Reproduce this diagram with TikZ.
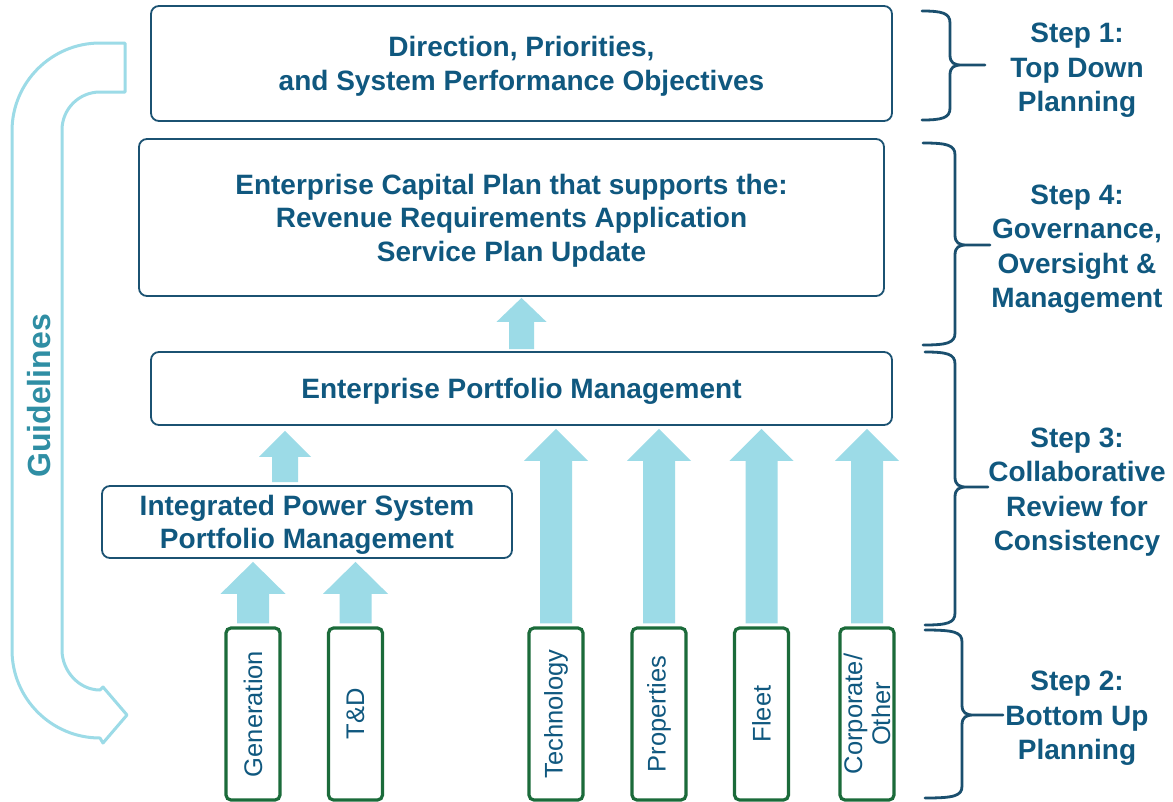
\documentclass[tikz,border=0pt]{standalone}
\usepackage{fontspec}
\setmainfont{Liberation Sans}
\usetikzlibrary{calc}

\definecolor{textblue}{HTML}{10587F}
\definecolor{boxline}{HTML}{1B5272}
\definecolor{boxgreen}{HTML}{1B6B3A}
\definecolor{arrowblue}{HTML}{9CDBE7}
\definecolor{guidetext}{HTML}{2F8EA4}
\definecolor{braceblue}{HTML}{1A4F6E}

% upward block arrow: #1 foot point, #2 tip point (its y only),
% #3 half shaft width, #4 half head width, #5 head length
\newcommand{\blockup}[5]{%
  \fill[arrowblue] let \p1=#1, \p2=#2 in
    (\x1-#3,\y1) -- (\x1-#3,\y2-#5) -- (\x1-#4,\y2-#5) -- (\x1,\y2)
    -- (\x1+#4,\y2-#5) -- (\x1+#3,\y2-#5) -- (\x1+#3,\y1) -- cycle;}

% curly brace opening to the right: #1 end x, #2 spine x, #3 tip x,
% #4 top y, #5 tip y, #6 bottom y
\newcommand{\stepbrace}[6]{%
  \draw[bracestyle] (#1,#4) .. controls (#2-8,#4) and (#2,#4+2) .. (#2,#4+12)
    -- (#2,#5-10) .. controls (#2,#5-2) and (#2+4,#5) .. (#2+12,#5) -- (#3,#5)
    (#2+12,#5) .. controls (#2+4,#5) and (#2,#5+2) .. (#2,#5+10)
    -- (#2,#6-12) .. controls (#2,#6-2) and (#2-8,#6) .. (#1,#6);}

% struts that centre a block of 28pt lines on the middle of its capitals
\newcommand{\capstrutA}{\rule{0pt}{26pt}}
\newcommand{\capstrutB}{\rule[-6pt]{0pt}{0pt}}

\begin{document}
\begin{tikzpicture}[x=1pt,y=-1pt,
  bluebox/.style={draw=boxline, line width=1.8pt, rounded corners=8pt, fill=white,
    inner sep=0pt, align=center, text=textblue,
    font=\bfseries\fontsize{28}{33.5}\selectfont},
  greenbox/.style={draw=boxgreen, line width=3.2pt, rounded corners=5pt, fill=white,
    minimum width=54pt, minimum height=172pt, inner sep=0pt},
  vlabel/.style={rotate=90, align=center, text=textblue, inner sep=0pt,
    font=\fontsize{25.5}{28}\selectfont},
  steptext/.style={align=center, text=textblue, inner sep=0pt,
    font=\bfseries\fontsize{28}{34.5}\selectfont},
  bracestyle/.style={draw=braceblue, line width=2.8pt, line cap=round, line join=round},
  guidearrow/.style={draw=arrowblue, line width=3pt, line join=round}]

\useasboundingbox (0,0) rectangle (1173,801);
\fill[white] (0,0) rectangle (1173,801);

% guidelines loop arrow (outline)
\draw[guidearrow] (125,43) -- (100,43)
  .. controls (51.4,43) and (12,82.4) .. (12,131) -- (12,650)
  .. controls (12,698.6) and (51.4,738) .. (100,738) -- (103,743) -- (127,715)
  -- (103,687) -- (100,690)
  .. controls (79,690) and (62,671) .. (62,650) -- (62,130)
  .. controls (62,109) and (79,92) .. (100,92) -- (125,92) -- cycle;
\node[rotate=90, text=guidetext, inner sep=0pt,
  font=\bfseries\fontsize{32}{36}\selectfont] (guide) at (39,396) {Guidelines};

% main boxes
\node[bluebox, minimum width=741pt, minimum height=115pt] (dir) at (521.5,63.5)
  {\capstrutA Direction, Priorities,\\and System Performance Objectives\capstrutB};
\node[bluebox, minimum width=745pt, minimum height=157pt] (ecp) at (511.5,217.5)
  {\capstrutA Enterprise Capital Plan that supports the:\\Revenue Requirements Application\\Service Plan Update\capstrutB};
\node[bluebox, minimum width=741pt, minimum height=73pt] (epm) at (521.5,388.5)
  {\capstrutA Enterprise Portfolio Management\capstrutB};
\node[bluebox, minimum width=410pt, minimum height=72pt] (ipsm) at (307,522)
  {\capstrutA Integrated Power System\\Portfolio Management\capstrutB};

% business-unit boxes
\node[greenbox] (gen) at (253,714) {};
\node[greenbox] (td) at (355.5,714) {};
\node[greenbox] (tech) at (556,714) {};
\node[greenbox] (prop) at (659,714) {};
\node[greenbox] (fleet) at (761.5,714) {};
\node[greenbox] (corp) at (867,714) {};
\node[vlabel] (genl) at (gen) {Generation};
\node[vlabel] (tdl) at (td) {T\&D};
\node[vlabel] (techl) at (tech) {Technology};
\node[vlabel] (propl) at (prop) {Properties};
\node[vlabel] (fleetl) at (fleet) {Fleet};
\node[vlabel] (corpl) at (corp) {Corporate/\\Other};

% block arrows
\blockup{($(epm.north)+(0,-2)$)}{($(ecp.south)+(0,1)$)}{12.5pt}{25pt}{24pt}
\blockup{($(ipsm.north)+(-22,-3)$)}{($(epm.south)+(0,5)$)}{13pt}{26pt}{26pt}
\blockup{($(gen.north)+(0,-3)$)}{($(ipsm.south)+(0,3)$)}{16pt}{32.5pt}{32pt}
\blockup{($(td.north)+(0,-3)$)}{($(ipsm.south)+(0,3)$)}{16pt}{32.5pt}{32pt}
\blockup{($(tech.north)+(0,-3)$)}{($(epm.south)+(0,3)$)}{16pt}{32pt}{32pt}
\blockup{($(prop.north)+(0,-3)$)}{($(epm.south)+(0,3)$)}{16pt}{32pt}{32pt}
\blockup{($(fleet.north)+(0,-3)$)}{($(epm.south)+(0,3)$)}{16pt}{32pt}{32pt}
\blockup{($(corp.north)+(0,-3)$)}{($(epm.south)+(0,3)$)}{16pt}{32pt}{32pt}

% step braces and labels
\stepbrace{922}{950}{985}{11}{65}{120}
\stepbrace{923}{955}{990}{143}{245}{345}
\stepbrace{925}{955}{988}{352}{487}{625}
\stepbrace{925}{962}{1003}{630}{715}{798}
\node[steptext] (step1) at (1077,67) {\capstrutA Step 1:\\Top Down\\Planning\capstrutB};
\node[steptext] (step4) at (1077,246) {\capstrutA Step 4:\\Governance,\\Oversight \&\\Management\capstrutB};
\node[steptext] (step3) at (1077,489) {\capstrutA Step 3:\\Collaborative\\Review for\\Consistency\capstrutB};
\node[steptext] (step2) at (1077,715) {\capstrutA Step 2:\\Bottom Up\\Planning\capstrutB};
\end{tikzpicture}
\end{document}
